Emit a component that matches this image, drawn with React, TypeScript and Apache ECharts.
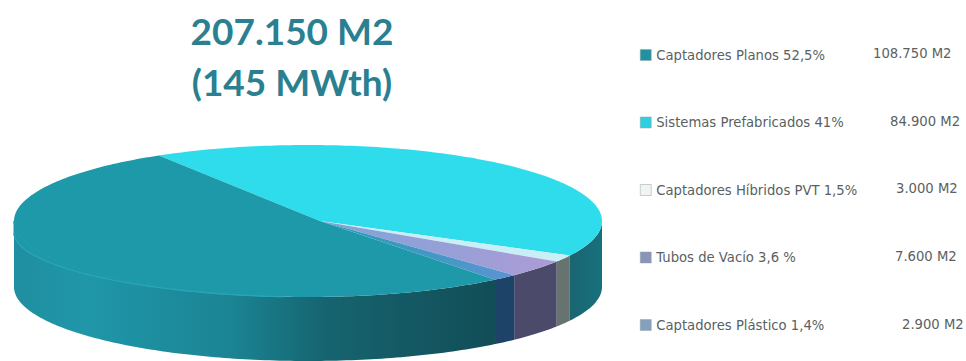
import React, { useEffect, useRef } from "react";
import * as echarts from "echarts";

const titleLines = ["207.150 M2", "(145 MWth)"];
// Slices in clockwise drawing order, starting at the upper-left rim
const sliceNames = [
  "Sistemas Prefabricados 41%",
  "Captadores Híbridos PVT 1,5%",
  "Tubos de Vacío 3,6 %",
  "Captadores Plástico 1,4%",
  "Captadores Planos 52,5%",
];
const sliceAreas = [84900, 3000, 7600, 2900, 108750];
const legendOrder = [4, 0, 1, 2, 3];
const areaLabels = ["108.750 M2", "84.900 M2", "3.000 M2", "7.600 M2", "2.900 M2"];
const areaLabelX = [873, 890, 896, 895, 902];
const legendColors = ["#22909f", "#2fd0de", "#f2f4f4", "#8b94b4", "#83a0bd"];

const topFills: any[] = [
  "#2fdcec",
  "#c9eff6",
  new echarts.graphic.LinearGradient(0, 0, 1, 0, [
    { offset: 0, color: "#7fa4d8" },
    { offset: 1, color: "#ad9bd6" },
  ]),
  new echarts.graphic.LinearGradient(0, 0, 1, 0, [
    { offset: 0, color: "#259cb4" },
    { offset: 1, color: "#5c94d2" },
  ]),
  "#1e99aa",
];
const wallFills: any[] = [
  new echarts.graphic.LinearGradient(0, 0, 1, 0, [
    { offset: 0, color: "#1a6570" },
    { offset: 1, color: "#16717d" },
  ]),
  "#66736f",
  "#4b4a6b",
  "#1d4369",
  new echarts.graphic.LinearGradient(0, 0, 1, 0, [
    { offset: 0, color: "#1f8fa1" },
    { offset: 0.15, color: "#1f97a9" },
    { offset: 0.45, color: "#1b8494" },
    { offset: 0.65, color: "#15646f" },
    { offset: 1, color: "#124d57" },
  ]),
];

const CX = 308;
const CY = 221;
const RX = 294;
const RY = 76;
const APEX = [320, 221];
const BASE_CY = 287;
const BASE_RY = 74;
const START_ANGLE = 239.5;

const total = sliceAreas.reduce((a, b) => a + b, 0);

const rimPoint = (deg: number, cy = CY, ry = RY): number[] => {
  const r = (deg * Math.PI) / 180;
  return [CX + RX * Math.cos(r), cy + ry * Math.sin(r)];
};

const arc = (from: number, to: number, cy = CY, ry = RY): number[][] => {
  const pts: number[][] = [];
  for (let d = from; d < to; d += 1) pts.push(rimPoint(d, cy, ry));
  pts.push(rimPoint(to, cy, ry));
  return pts;
};

const sliceRange = (index: number): [number, number] => {
  const before = sliceAreas.slice(0, index).reduce((a, b) => a + b, 0);
  const from = START_ANGLE + (before / total) * 360;
  return [from, from + (sliceAreas[index] / total) * 360];
};

const renderSlice = (index: number) => (_params: any, api: any) => {
  const [from] = sliceRange(index);
  const to = from + (api.value(0) / total) * 360;
  const children: any[] = [];
  // Only the part of the rim that faces the viewer gets a wall
  [0, 360].forEach((offset) => {
    const a = Math.max(from, offset);
    const b = Math.min(to, offset + 180);
    if (b > a) {
      children.push({
        type: "polygon",
        shape: { points: [...arc(a, b), ...arc(a, b, BASE_CY, BASE_RY).reverse()] },
        style: { fill: wallFills[index] },
      });
    }
  });
  children.push({
    type: "polygon",
    shape: { points: [APEX, ...arc(from, to)] },
    style: { fill: topFills[index] },
  });
  if (index === 4) {
    // Rounded bevel along the front-left edge of the disc, widening towards the left
    const bevel = arc(95, 180).map(([x, y], i, all) => [x, y + 12 * (i / (all.length - 1)) ** 2]);
    children.push({
      type: "polygon",
      shape: { points: [...arc(95, 180), ...bevel.slice().reverse()] },
      style: { fill: "#1e99aa", stroke: "#1e99aa", lineWidth: 1 },
    });
    children.push({
      type: "polyline",
      shape: { points: bevel },
      style: { stroke: "#2aa6b8", lineWidth: 1.2, fill: "none" },
    });
  }
  return { type: "group", children };
};

export default function App() {
  const ref = useRef<HTMLDivElement>(null);
  useEffect(() => {
    document.body.style.margin = "0";
    const chart = echarts.init(ref.current!, undefined, { renderer: "svg" });
    chart.setOption({
      animation: false,
      backgroundColor: "#ffffff",
      title: {
        text: titleLines.join("\n"),
        left: 287,
        top: 0,
        textAlign: "center",
        textStyle: {
          fontFamily: "Lato",
          fontWeight: "bold",
          fontSize: 37,
          lineHeight: 51,
          color: "#2a7f90",
        },
      },
      legend: {
        orient: "vertical",
        left: 635,
        top: 43,
        icon: "rect",
        itemWidth: 11,
        itemHeight: 11,
        itemGap: 53.5,
        selectedMode: false,
        data: legendOrder.map((i, k) => ({
          name: sliceNames[i],
          itemStyle: { color: legendColors[k], borderColor: "#8fa5a8", borderWidth: 0.5 },
        })),
        textStyle: { fontFamily: "DejaVu Sans", fontSize: 13.2, lineHeight: 14, color: "#5a5f62" },
      },
      graphic: areaLabels.map((text, i) => ({
        type: "text",
        left: areaLabelX[i],
        top: 47 + i * 67.7,
        style: { text, fontFamily: "DejaVu Sans", fontSize: 13.2, fill: "#5a5f62" },
      })),
      series: sliceNames.map((name, i) => ({
        type: "custom",
        name,
        coordinateSystem: "none",
        silent: true,
        data: [sliceAreas[i]],
        renderItem: renderSlice(i),
      })),
    });
    return () => chart.dispose();
  }, []);
  return <div ref={ref} style={{ width: 966, height: 361 }} />;
}
